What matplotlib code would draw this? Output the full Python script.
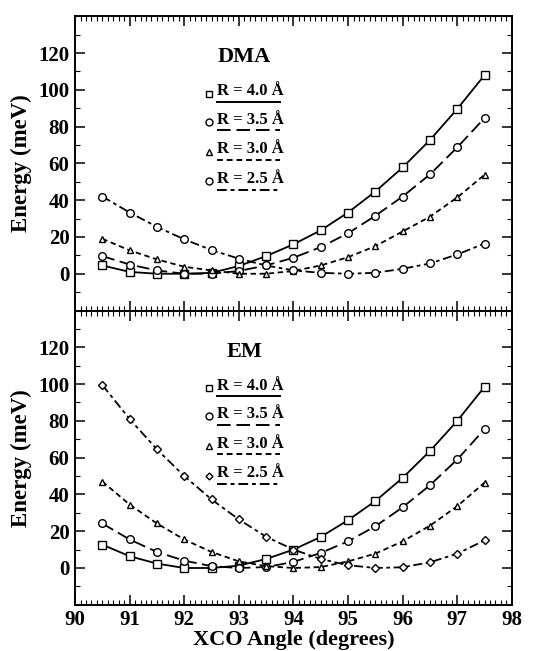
import matplotlib.pyplot as plt
from matplotlib.ticker import MultipleLocator

plt.rcParams['font.family'] = ['Liberation Serif', 'DejaVu Serif']
plt.rcParams['font.weight'] = 'bold'

# XCO angle (degrees)
angle = [90.5, 91.0, 91.5, 92.0, 92.5, 93.0, 93.5, 94.0,
         94.5, 95.0, 95.5, 96.0, 96.5, 97.0, 97.5]

# DMA energies (meV)
dma_40 = [4.5, 1.0, 0.0, 0.0, 0.5, 4.2, 9.6, 16.0, 23.6, 33.3, 44.7, 57.8, 72.7, 89.6, 108.0]
dma_35 = [9.6, 5.0, 1.8, 0.0, 0.0, 1.5, 4.5, 8.7, 14.5, 22.0, 31.5, 42.0, 54.0, 68.7, 84.7]
dma_30 = [19.0, 12.7, 7.8, 3.8, 1.8, 0.0, 0.0, 1.5, 4.5, 9.0, 15.0, 23.0, 31.0, 41.5, 53.8]
dma_25 = [42.0, 33.3, 25.5, 18.7, 12.9, 8.2, 4.5, 1.8, 0.5, 0.0, 0.5, 2.7, 5.6, 10.5, 16.4]

# EM energies (meV)
em_40 = [12.7, 6.4, 2.4, 0.0, 0.0, 1.3, 4.9, 10.0, 16.9, 26.0, 36.4, 49.0, 63.6, 80.0, 98.5]
em_35 = [24.2, 15.5, 8.7, 4.0, 1.0, 0.0, 0.5, 3.3, 8.2, 14.5, 22.7, 33.0, 45.0, 59.0, 75.5]
em_30 = [47.0, 34.5, 24.2, 15.5, 8.7, 3.6, 1.0, 0.0, 0.5, 3.6, 7.8, 14.5, 23.0, 33.6, 46.4]
em_25 = [99.5, 81.0, 64.5, 50.0, 37.3, 26.4, 17.0, 10.0, 4.9, 1.5, 0.0, 0.4, 3.1, 7.8, 15.0]

labels = ['R = 4.0 Å', 'R = 3.5 Å', 'R = 3.0 Å', 'R = 2.5 Å']
styles = ['-', (0, (7, 3)), (0, (3, 2)), (0, (5, 2, 2, 2))]

fig, axs = plt.subplots(2, 1, figsize=(5.6, 6.51), dpi=100, sharex=True)
fig.subplots_adjust(left=0.134, right=0.914, top=0.975, bottom=0.071, hspace=0)

panels = [('DMA', [dma_40, dma_35, dma_30, dma_25], ['s', 'o', '^', 'o']),
          ('EM', [em_40, em_35, em_30, em_25], ['s', 'o', '^', 'D'])]
msizes = {'s': 5.5, 'o': 5.5, '^': 5, 'D': 4}

for ax, (name, series, markers) in zip(axs, panels):
    for y, m, ls in zip(series, markers, styles):
        ax.plot(angle, y, linestyle=ls, color='k', lw=1.3, marker=m,
                ms=msizes[m], mfc='white', mec='k', mew=1.0)

    ax.set_xlim(90, 98)
    ax.set_ylim(-20, 140)
    ax.set_yticks([0, 20, 40, 60, 80, 100, 120])
    ax.yaxis.set_minor_locator(MultipleLocator(10))
    ax.xaxis.set_major_locator(MultipleLocator(1))
    ax.xaxis.set_minor_locator(MultipleLocator(0.1))
    ax.tick_params(which='both', direction='in', top=True, right=True)
    ax.tick_params(which='major', length=7, width=1.1, labelsize=15, pad=4)
    ax.tick_params(which='minor', length=3.5, width=0.8)
    for sp in ax.spines.values():
        sp.set_linewidth(1.4)
    ax.set_ylabel('Energy (meV)', fontsize=16.5, fontweight='bold')

    # hand-built key: marker, label, line sample under label
    ax.text(0.387, 0.86, name, transform=ax.transAxes, ha='center', va='center',
            fontsize=16, fontweight='bold')
    rows = [0.745, 0.648, 0.548, 0.447]
    for r, lab, m, ls in zip(rows, labels, markers, styles):
        ax.plot([0.307], [r - 0.008], transform=ax.transAxes, marker=m,
                ms=msizes[m] - 0.5, mfc='white', mec='k', mew=1.0, color='k')
        ax.text(0.325, r, lab, transform=ax.transAxes, ha='left', va='center',
                fontsize=12, fontweight='bold')
        ax.plot([0.325, 0.469], [r - 0.036, r - 0.036], transform=ax.transAxes,
                color='k', lw=1.4, linestyle=ls)

for lab in axs[1].get_xticklabels() + axs[0].get_yticklabels() + axs[1].get_yticklabels():
    lab.set_fontweight('bold')

axs[1].set_xlabel('XCO Angle (degrees)', fontsize=16, fontweight='bold', labelpad=0)
axs[0].yaxis.set_label_coords(-0.098, 0.5)
axs[1].yaxis.set_label_coords(-0.098, 0.5)

fig.savefig('out.png', dpi=100)
